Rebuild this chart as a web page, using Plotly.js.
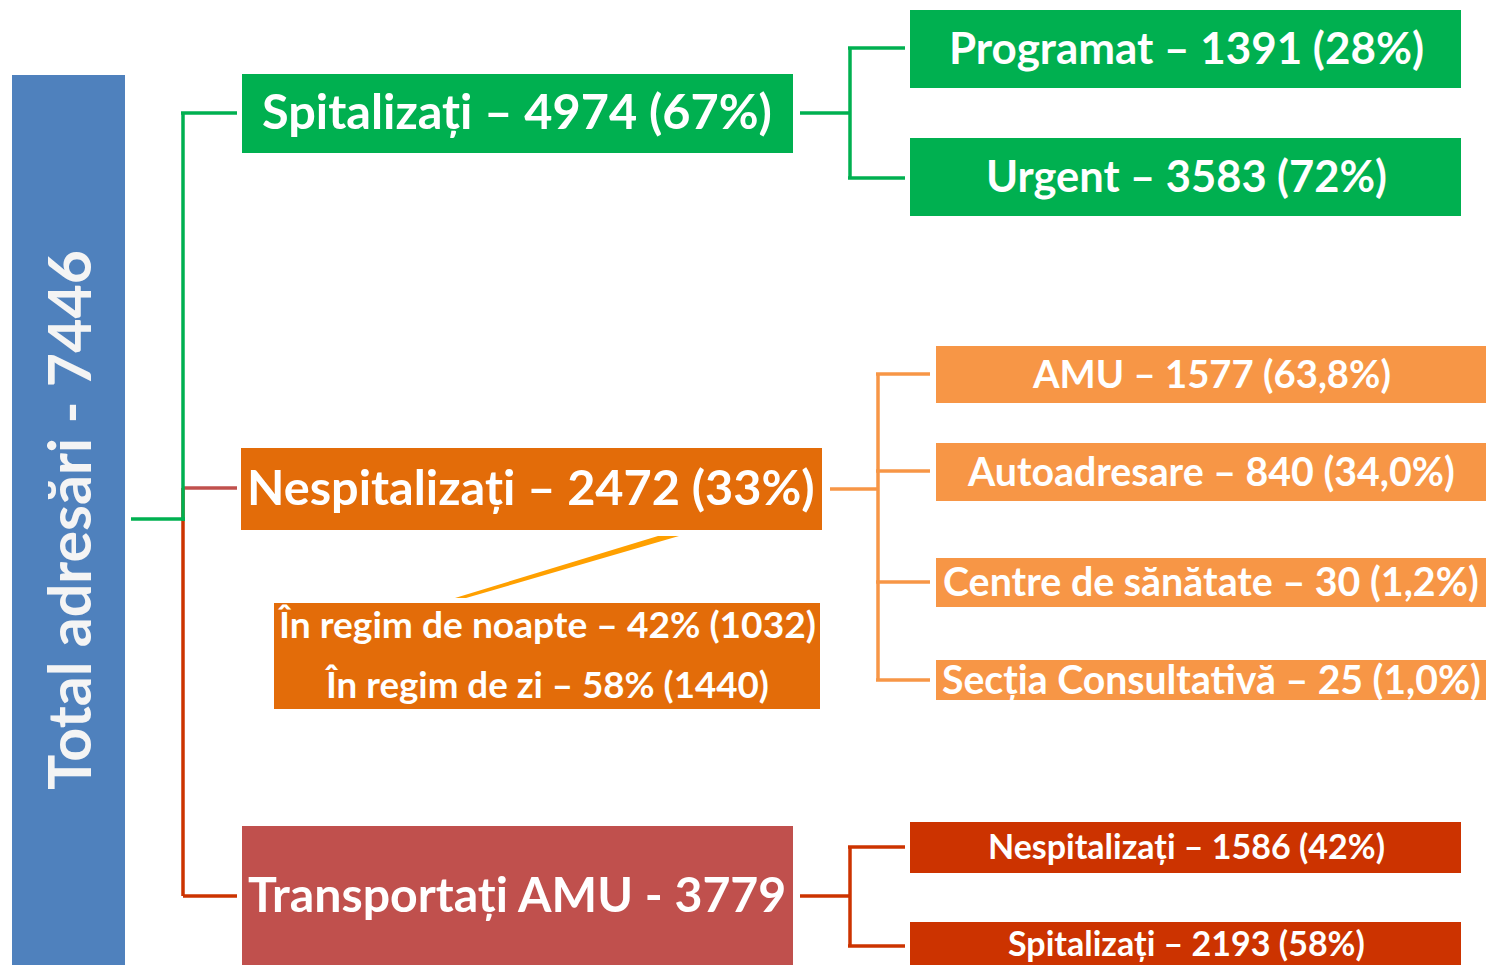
<!DOCTYPE html>
<html><head><meta charset="utf-8">
<script src="https://cdn.plot.ly/plotly-3.0.1.min.js"></script>
<style>html,body{margin:0;padding:0;background:#fff;overflow:hidden}</style>
</head><body>
<div id="chart" style="width:1486px;height:965px"></div>
<script>
// ---- DATA ----
const totalLabel = 'Total adresări';
const totalValue = 7446;
const mainLabels = ['Spitalizați', 'Nespitalizați', 'Transportați AMU'];
const mainValues = [4974, 2472, 3779];
const mainShares = ['67%', '33%', null];
const spitLabels = ['Programat', 'Urgent'];
const spitValues = [1391, 3583];
const spitShares = ['28%', '72%'];
const nespLabels = ['AMU', 'Autoadresare', 'Centre de sănătate', 'Secția Consultativă'];
const nespValues = [1577, 840, 30, 25];
const nespShares = ['63,8%', '34,0%', '1,2%', '1,0%'];
const regimLabels = ['În regim de noapte', 'În regim de zi'];
const regimShares = ['42%', '58%'];
const regimValues = [1032, 1440];
const transLabels = ['Nespitalizați', 'Spitalizați'];
const transValues = [1586, 2193];
const transShares = ['42%', '58%'];

// ---- LAYOUT / STYLE (pixel geometry of the diagram) ----
const C = {blue:'#4F81BD', green:'#00B050', orD:'#E36C09', orL:'#F79646', brown:'#C0504D', red:'#CC3300', diag:'#FFA000'};
const FONT = 'Lato';
const DY = -2;
const cv = document.createElement('canvas').getContext('2d');
function fit(text, target, weight){ cv.font = weight + ' 100px ' + FONT; return 100 * target / cv.measureText(text).width; }

const shapes = [];
const annotations = [];
function rect(x0,y0,x1,y1,color){ shapes.push({type:'rect',xref:'x',yref:'y',x0,y0,x1,y1,fillcolor:color,line:{width:0},layer:'below'}); }
function line(x0,y0,x1,y1,color,w){ shapes.push({type:'line',xref:'x',yref:'y',x0,y0,x1,y1,line:{color,width:w||3.5}}); }
function label(text,x,y,width,opts){
  opts = opts || {};
  const weight = opts.weight || 'bold';
  annotations.push({xref:'x',yref:'y',x,y:y+(opts.angle?0:DY),text,showarrow:false,xanchor:'center',yanchor:'middle',
    textangle:opts.angle||0,
    font:{family:FONT,size:fit(text,width,weight),color:opts.color||'#FFFFFF',weight:weight==='bold'?700:400}});
}
const lbl = (name, val, share, sep) => share ? `${name} – ${val} (${share})` : `${name} ${sep} ${val}`;

// Total column
rect(12,75,125,965,C.blue);
label(`${totalLabel} - ${totalValue}`, 68, 520, 540, {angle:-90, color:'#F4F4F4'});

// Level-1 connectors
line(183,488,183,896,C.red);
line(183,896,237,896,C.red);
line(183,488,237,488,C.brown);
line(131,519,185,519,C.green);
line(183,112,183,521,C.green);
line(181,113,237,113,C.green);

// Spitalizați
rect(242,74,793,153,C.green);
label(lbl(mainLabels[0],mainValues[0],mainShares[0]), 517, 112, 510);
line(800,113,850,113,C.green);
line(850,47,850,179,C.green);
line(848,48,905,48,C.green);
line(848,178,905,178,C.green);
const spitY = [[10,88],[138,216]];
const spitW = [475,401];
spitLabels.forEach((n,i)=>{
  rect(910,spitY[i][0],1461,spitY[i][1],C.green);
  label(lbl(n,spitValues[i],spitShares[i]), 1186, (spitY[i][0]+spitY[i][1])/2, spitW[i]);
});

// Nespitalizați
rect(241,448,822,530,C.orD);
label(lbl(mainLabels[1],mainValues[1],mainShares[1]), 531, 488, 568);
line(830,489,878,489,C.orL);
line(878,373,878,681,C.orL);
const nespY = [[346,403],[443,501],[558,607],[660,700]];
const nespLink = [374,471,582,680];
const nespW = [358,487,536,539];
nespLabels.forEach((n,i)=>{
  line(876,nespLink[i],930,nespLink[i],C.orL);
  rect(936,nespY[i][0],1486,nespY[i][1],C.orL);
  label(lbl(n,nespValues[i],nespShares[i]), 1211, (nespY[i][0]+nespY[i][1])/2, nespW[i]);
});

// Regime split (tapered connector)
shapes.push({type:'path',xref:'x',yref:'y',path:'M 658 536 L 679 536 L 466 598 L 455 598 Z',fillcolor:C.diag,line:{width:0}});
rect(274,603,820,709,C.orD);
const regimYc = [625,686];
const regimW = [537,443];
regimLabels.forEach((n,i)=>{
  label(`${n} – ${regimShares[i]} (${regimValues[i]})`, 547, regimYc[i], regimW[i]);
});

// Transportați AMU
rect(242,826,793,965,C.brown);
label(lbl(mainLabels[2],mainValues[2],mainShares[2],'-'), 517, 895, 540);
line(800,896,850,896,C.red);
line(850,846,850,947,C.red);
line(848,847,905,847,C.red);
line(848,946,905,946,C.red);
const transY = [[822,873],[922,970]];
const transYc = [847,944];
const transW = [397,357];
transLabels.forEach((n,i)=>{
  rect(910,transY[i][0],1461,transY[i][1],C.red);
  label(lbl(n,transValues[i],transShares[i]), 1186, transYc[i], transW[i]);
});

const layout = {
  width:1486, height:965, margin:{l:0,r:0,t:0,b:0},
  paper_bgcolor:'#FFFFFF', plot_bgcolor:'#FFFFFF',
  xaxis:{range:[0,1486],visible:false,fixedrange:true},
  yaxis:{range:[965,0],visible:false,fixedrange:true},
  shapes, annotations, showlegend:false
};
Plotly.newPlot('chart', [{x:[],y:[],type:'scatter',hoverinfo:'skip'}], layout, {staticPlot:true,displayModeBar:false});
</script>
</body></html>
